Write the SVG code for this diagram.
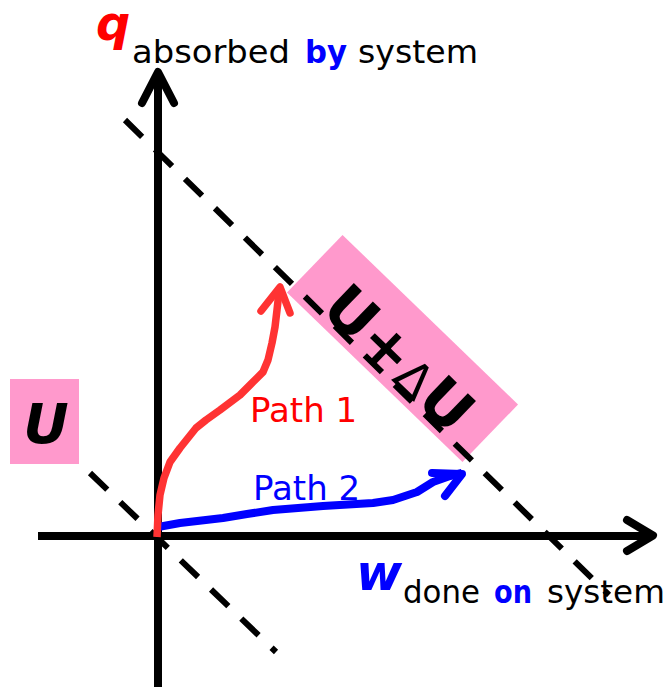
<svg xmlns="http://www.w3.org/2000/svg" width="670" height="687" viewBox="0 0 670 687">
<style>
.axis{stroke:#000;stroke-width:8;fill:none}
.head{stroke-linecap:round;stroke-linejoin:round}
.dash{stroke:#000;stroke-width:6;fill:none;stroke-dasharray:24 18;stroke-linecap:butt}
.pink{fill:#FF99CC}
.lbl{font-family:"DejaVu Sans",sans-serif}
.cs{font-family:"DejaVu Sans",sans-serif;font-size:32px;fill:#000}
.bi{font-family:"DejaVu Sans",sans-serif;font-weight:bold;font-style:italic}
.blue{fill:#0000FF}
.red{fill:#FF0000}
</style>
<rect width="670" height="687" fill="#fff"/>
<g id="axes">
  <line class="axis" x1="158" y1="687" x2="158" y2="74"/>
  <polyline class="axis head" points="142,103 158,72 174,103"/>
  <line class="axis" x1="38" y1="536" x2="650" y2="536"/>
  <polyline class="axis head" points="627,520 653,535.5 627,551"/>
</g>
<g id="box-U">
  <rect class="pink" x="10" y="379" width="69" height="85"/>
  <text class="bi" x="46" y="443" font-size="56" text-anchor="middle" fill="#000">U</text>
</g>
<g id="box-UdU">
  <rect class="pink" x="280.5" y="308.5" width="244" height="80" transform="rotate(44 402.5 348.5)"/>
  <text transform="rotate(44 402.5 348.5)" x="407" y="379" text-anchor="middle" font-family="DejaVu Sans, sans-serif" font-weight="bold" font-size="60" fill="#000">U+<tspan font-family="DejaVu Sans, sans-serif" font-weight="normal" font-size="48">Δ</tspan>U</text>
</g>
<g id="connectors">
  <line class="dash" x1="125" y1="120" x2="609" y2="595"/>
  <line class="dash" x1="90" y1="473" x2="276" y2="652"/>
  <g id="path2" stroke="#0000FF" stroke-width="8" fill="none" stroke-linejoin="round">
    <polyline points="158,527 180,523 223,518 247,514 273,510 323,506 373,503 393,500 417,492 433,482 450,476 462,473"/>
    <polyline class="head" points="432,473 462,474 445,496"/>
  </g>
  <g id="path1" stroke="#FF3333" stroke-width="7.5" fill="none" stroke-linejoin="round">
    <polyline points="157,537 158,515 160,495 164,478 170,462 180,448 188,438 196,428 206,420 220,410 240,395 250,385 263,372 268,360 272,343 275,327 277,310 279,292 280,287"/>
    <polyline class="head" points="261,311 280,287 290,313"/>
  </g>
</g>
<g id="label-path1"><text class="lbl red" x="250" y="422" font-size="34">Path 1</text></g>
<g id="label-path2"><text class="lbl blue" x="253" y="500" font-size="34">Path 2</text></g>
<g id="label-q">
  <text class="bi red" x="96" y="40" font-size="48">q</text>
  <text class="cs" x="132" y="63" textLength="158" lengthAdjust="spacingAndGlyphs">absorbed</text>
  <text class="cs blue" x="305" y="63" font-weight="bold" textLength="42" lengthAdjust="spacingAndGlyphs">by</text>
  <text class="cs" x="358" y="63" textLength="120" lengthAdjust="spacingAndGlyphs">system</text>
</g>
<g id="label-w">
  <text class="bi blue" x="356" y="590" font-size="50">w</text>
  <text class="cs" x="403" y="603" textLength="77" lengthAdjust="spacingAndGlyphs">done</text>
  <text class="cs blue" x="494" y="603" font-weight="bold" textLength="38" lengthAdjust="spacingAndGlyphs">on</text>
  <text class="cs" x="547" y="603" textLength="118" lengthAdjust="spacingAndGlyphs">system</text>
</g>
</svg>
